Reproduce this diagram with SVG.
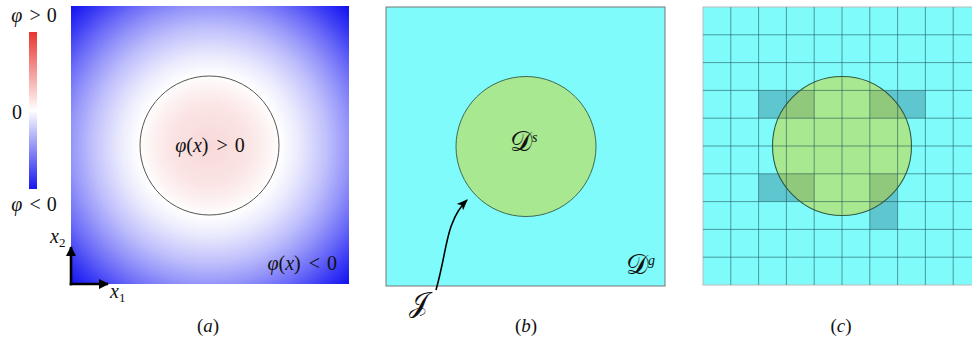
<svg xmlns="http://www.w3.org/2000/svg" width="972" height="343" viewBox="0 0 972 343">
<style>
text{font-family:"Liberation Serif","DejaVu Serif",serif;fill:#111;}
.m{font-size:20px;}
.i{font-style:italic;}
.cal{font-size:28px;font-style:normal;}
.cap{font-size:19px;text-anchor:middle;}
.grid{stroke:#1f4f52;stroke-opacity:0.7;stroke-width:0.8;fill:none;}
.ax{stroke:#000;stroke-width:2.6;fill:none;}
</style>
<defs>
<radialGradient id="phi" gradientUnits="userSpaceOnUse" cx="209.5" cy="145.5" r="196">
<stop offset="0" stop-color="#f8d9d9"/>
<stop offset="0.2" stop-color="#fbe4e4"/>
<stop offset="0.3" stop-color="#fdf3f3"/>
<stop offset="0.36" stop-color="#ffffff"/>
<stop offset="0.45" stop-color="#ececfd"/>
<stop offset="0.5" stop-color="#dedefd"/>
<stop offset="0.6" stop-color="#bfbffc"/>
<stop offset="0.7" stop-color="#9898fa"/>
<stop offset="0.8" stop-color="#6c6cf8"/>
<stop offset="0.9" stop-color="#3c3cf5"/>
<stop offset="1" stop-color="#1212f0"/>
</radialGradient>
<linearGradient id="cbar" x1="0" y1="0" x2="0" y2="1">
<stop offset="0" stop-color="#e8352e"/>
<stop offset="0.5" stop-color="#ffffff"/>
<stop offset="1" stop-color="#1616ee"/>
</linearGradient>
<marker id="ah" viewBox="0 0 10 10" refX="9" refY="5" markerWidth="4" markerHeight="4" orient="auto" markerUnits="strokeWidth">
<path d="M0,0 L10,5 L0,10 z" fill="#000"/>
</marker>
<marker id="ah2" viewBox="0 0 10 10" refX="9" refY="5" markerWidth="8" markerHeight="7" orient="auto" markerUnits="strokeWidth">
<path d="M0,1 L10,5 L0,9 L2.5,5 z" fill="#000"/>
</marker>
<clipPath id="cc"><circle cx="842" cy="146" r="69.5"/></clipPath>
</defs>

<!-- Panel (a) -->
<g id="panel-a">
<rect x="71" y="6" width="278" height="278" fill="url(#phi)"/>
<circle cx="209.5" cy="145.5" r="69.5" fill="none" stroke="#555" stroke-width="1"/>
<text class="m" x="210" y="152" text-anchor="middle"><tspan class="i">φ</tspan>(<tspan class="i">x</tspan>)<tspan dx="3"> &gt; </tspan><tspan dx="2">0</tspan></text>
<text class="m" x="337" y="270" text-anchor="end"><tspan class="i">φ</tspan>(<tspan class="i">x</tspan>)<tspan dx="3"> &lt; </tspan><tspan dx="2">0</tspan></text>
<text class="cap" x="208" y="332">(<tspan class="i">a</tspan>)</text>
</g>
<g id="colorbar">
<rect x="29" y="32" width="8" height="157" fill="url(#cbar)"/>
<text class="m" x="34" y="22" text-anchor="middle"><tspan class="i">φ</tspan><tspan dx="2"> &gt; </tspan><tspan dx="1">0</tspan></text>
<text class="m" x="17" y="119" text-anchor="middle">0</text>
<text class="m" x="34" y="211" text-anchor="middle"><tspan class="i">φ</tspan><tspan dx="2"> &lt; </tspan><tspan dx="1">0</tspan></text>
</g>
<g id="axes">
<line class="ax" x1="71" y1="285.3" x2="71" y2="247" marker-end="url(#ah)"/>
<line class="ax" x1="69.7" y1="284" x2="108" y2="284" marker-end="url(#ah)"/>
<text class="m i" x="50" y="243">x<tspan font-size="13" font-style="normal" dy="4">2</tspan></text>
<text class="m i" x="110" y="298">x<tspan font-size="13" font-style="normal" dy="4">1</tspan></text>
</g>

<!-- Panel (b) -->
<g id="panel-b">
<rect x="386" y="7" width="279" height="279" fill="#7ffbfb" stroke="#777" stroke-width="1"/>
<circle cx="526" cy="146.5" r="70" fill="#a8e890" stroke="#3d6b55" stroke-width="1"/>
<text x="510" y="151"><tspan class="cal">𝒟</tspan><tspan class="i" font-size="14" dy="-9">s</tspan></text>
<text x="626" y="274"><tspan class="cal">𝒟</tspan><tspan class="i" font-size="14" dy="-9">g</tspan></text>
<text x="409" y="312"><tspan class="cal" font-size="25px">𝒥</tspan></text>
<text class="cap" x="526" y="332">(<tspan class="i">b</tspan>)</text>
</g>
<g id="connectors">
<path d="M436,290 C444,262 446,238 452,224 C456,213 461,206 467,200" fill="none" stroke="#000" stroke-width="1.6" marker-end="url(#ah2)"/>
</g>

<!-- Panel (c) -->
<g id="panel-c">
<rect x="703" y="7" width="278" height="278" fill="#7ffbfb" stroke="#bbb" stroke-width="1"/>
<g fill="#5ec6cf">
<rect x="758.6" y="90.4" width="55.6" height="27.8"/>
<rect x="869.8" y="90.4" width="55.6" height="27.8"/>
<rect x="758.6" y="173.8" width="55.6" height="27.8"/>
<rect x="869.8" y="173.8" width="27.8" height="55.6"/>
</g>
<circle cx="842" cy="146" r="69.5" fill="#a8e890"/>
<g fill="#90c87c" clip-path="url(#cc)">
<rect x="758.6" y="90.4" width="55.6" height="27.8"/>
<rect x="869.8" y="90.4" width="55.6" height="27.8"/>
<rect x="758.6" y="173.8" width="55.6" height="27.8"/>
<rect x="869.8" y="173.8" width="27.8" height="55.6"/>
</g>
<path class="grid" d="M730.8,7V285M758.6,7V285M786.4,7V285M814.2,7V285M842,7V285M869.8,7V285M897.6,7V285M925.4,7V285M953.2,7V285M703,34.8H981M703,62.6H981M703,90.4H981M703,118.2H981M703,146H981M703,173.8H981M703,201.6H981M703,229.4H981M703,257.2H981"/>
<circle cx="842" cy="146" r="69.5" fill="none" stroke="#2f5a40" stroke-width="1.1"/>
<text class="cap" x="841" y="332">(<tspan class="i">c</tspan>)</text>
</g>
</svg>
